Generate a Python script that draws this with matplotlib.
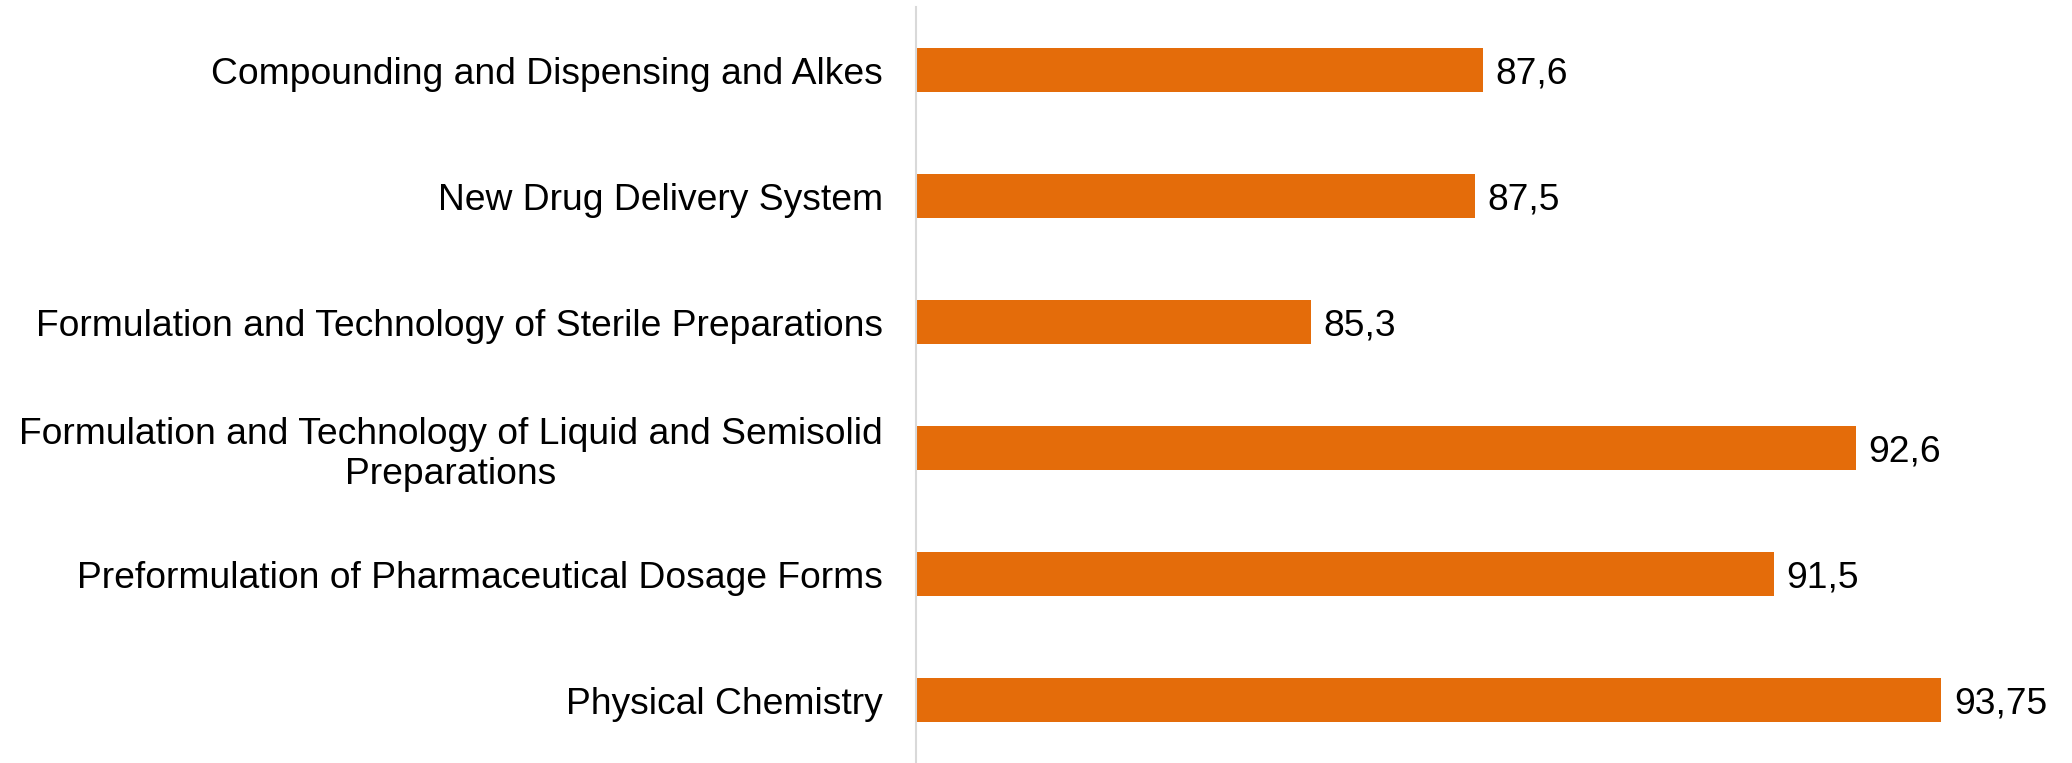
import matplotlib.pyplot as plt

categories = [
    "Compounding and Dispensing and Alkes",
    "New Drug Delivery System",
    "Formulation and Technology of Sterile Preparations",
    "Formulation and Technology of Liquid and Semisolid\nPreparations",
    "Preformulation of Pharmaceutical Dosage Forms",
    "Physical Chemistry",
]
values = [87.6, 87.5, 85.3, 92.6, 91.5, 93.75]
value_labels = ["87,6", "87,5", "85,3", "92,6", "91,5", "93,75"]

BAR_COLOR = "#E46C0A"

plt.rcParams.update({"font.family": ["Liberation Sans", "DejaVu Sans"], "font.size": 26.8})
fig = plt.figure(figsize=(20.72, 7.63), dpi=100, facecolor="white")
ax = fig.add_axes([0.4421, 0.0, 0.9819 - 0.4421, 0.9908])

positions = list(range(len(categories)))[::-1]
ax.barh(positions, values, height=0.35, color=BAR_COLOR, left=0)
ax.set_xlim(80, 95)
ax.set_ylim(-0.5, len(categories) - 0.5)

for pos, val, lab in zip(positions, values, value_labels):
    ax.annotate(lab, xy=(val, pos), xytext=(9, 0), textcoords="offset points",
                va="center_baseline", ha="left", fontsize=26.8, color="black")

ax.set_yticks(positions)
ax.set_yticklabels(categories)
for tl in ax.get_yticklabels():
    tl.set_multialignment("center")
ax.tick_params(axis="y", length=0, pad=24)
ax.set_xticks([])

for side in ["top", "right", "bottom"]:
    ax.spines[side].set_visible(False)
ax.spines["left"].set_color("#D9D9D9")
ax.spines["left"].set_linewidth(1.5)

fig.savefig("out.png", dpi=100, facecolor="white")
